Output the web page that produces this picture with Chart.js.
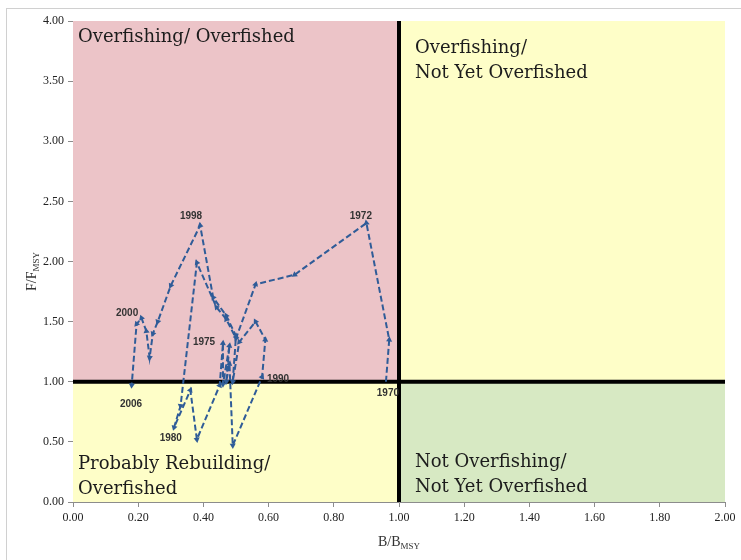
<!DOCTYPE html>
<html>
<head>
<meta charset="utf-8">
<script src="https://cdn.jsdelivr.net/npm/chart.js@4.4.0/dist/chart.umd.min.js"></script>
<style>
  html, body { margin: 0; padding: 0; background: #fff; }
  #wrap { width: 741px; height: 560px; position: relative; }
</style>
</head>
<body>
<div id="wrap"><canvas id="myChart" width="741" height="560"></canvas></div>
<script>
'use strict';

// stock trajectory, one point per year
let years = [];
for (let y = 1970; y <= 2006; y++) years.push(y);

let bRatio = [0.96, 0.97, 0.90, 0.68, 0.56, 0.50, 0.47, 0.44, 0.38, 0.33,
              0.31, 0.36, 0.38, 0.45, 0.46, 0.46, 0.48, 0.47, 0.48, 0.49,
              0.58, 0.59, 0.56, 0.51, 0.49, 0.50, 0.47, 0.43, 0.39, 0.30,
              0.26, 0.245, 0.235, 0.225, 0.21, 0.195, 0.18];
let fRatio = [1.00, 1.35, 2.32, 1.89, 1.81, 1.36, 1.52, 1.62, 1.99, 0.80,
              0.62, 0.93, 0.52, 0.97, 1.32, 0.98, 1.30, 1.00, 1.15, 0.47,
              1.04, 1.35, 1.50, 1.33, 1.00, 1.38, 1.55, 1.70, 2.30, 1.80,
              1.50, 1.40, 1.20, 1.42, 1.53, 1.48, 0.97];

// year labels: text and where it sits (data units)
let yearLabels = ['1970', '1972', '1975', '1980', '1990', '1998', '2000', '2006'];
let yearLabelX = [0.966, 0.883, 0.402, 0.300, 0.629, 0.362, 0.166, 0.178];
let yearLabelY = [0.906, 2.380, 1.330, 0.530, 1.020, 2.380, 1.570, 0.810];

let bThreshold = 1.0;
let fThreshold = 1.0;

let quadText = [
    ['Overfishing/ Overfished'],
    ['Overfishing/', 'Not Yet Overfished'],
    ['Probably Rebuilding/', 'Overfished'],
    ['Not Overfishing/', 'Not Yet Overfished']
];

let points = [];
for (let i = 0; i < years.length; i++) {
    points.push({x: bRatio[i], y: fRatio[i]});
}

function arrowAngle(c) {
    let i = c.dataIndex;
    if (i === 0) return 0;
    let xs = c.chart.scales.x, ys = c.chart.scales.y;
    let dx = xs.getPixelForValue(bRatio[i]) - xs.getPixelForValue(bRatio[i - 1]);
    let dy = ys.getPixelForValue(fRatio[i]) - ys.getPixelForValue(fRatio[i - 1]);
    return Math.atan2(dy, dx) * 180 / Math.PI + 90;
}

function subTitle(ctx, main, sub, x, y) {
    ctx.font = '14px "Liberation Serif"';
    let w1 = ctx.measureText(main).width;
    ctx.font = '9px "Liberation Serif"';
    let w2 = ctx.measureText(sub).width;
    let x0 = x - (w1 + w2) / 2;
    ctx.font = '14px "Liberation Serif"';
    ctx.fillText(main, x0, y);
    ctx.font = '9px "Liberation Serif"';
    ctx.fillText(sub, x0 + w1, y + 3);
}

let quadrants = {
    id: 'quadrants',
    beforeDraw(chart) {
        let ctx = chart.ctx;
        ctx.save();
        ctx.strokeStyle = '#d0d0d0';
        ctx.lineWidth = 1;
        ctx.strokeRect(6.5, 8.5, 760, 570);
        ctx.restore();
    },
    beforeDatasetsDraw(chart) {
        let ctx = chart.ctx, a = chart.chartArea;
        let xs = chart.scales.x, ys = chart.scales.y;
        let mx = xs.getPixelForValue(bThreshold);
        let my = ys.getPixelForValue(fThreshold);
        ctx.save();
        ctx.fillStyle = '#ecc4c8';
        ctx.fillRect(a.left, a.top, mx - a.left, my - a.top);
        ctx.fillStyle = '#fefec8';
        ctx.fillRect(mx, a.top, a.right - mx, my - a.top);
        ctx.fillRect(a.left, my, mx - a.left, a.bottom - my);
        ctx.fillStyle = '#d7e9c3';
        ctx.fillRect(mx, my, a.right - mx, a.bottom - my);

        // quadrant captions
        ctx.fillStyle = '#1c1c1c';
        ctx.font = '18px "DejaVu Serif"';
        ctx.textBaseline = 'middle';
        ctx.textAlign = 'left';
        let spots = [[a.left + 5, a.top + 16], [mx + 16, a.top + 27],
                     [a.left + 5, a.bottom - 38], [mx + 16, a.bottom - 40]];
        for (let q = 0; q < quadText.length; q++) {
            for (let k = 0; k < quadText[q].length; k++) {
                ctx.fillText(quadText[q][k], spots[q][0], spots[q][1] + k * 25);
            }
        }

        // threshold lines
        ctx.strokeStyle = '#000';
        ctx.lineWidth = 4;
        ctx.beginPath();
        ctx.moveTo(mx, a.top);
        ctx.lineTo(mx, a.bottom);
        ctx.moveTo(a.left, my);
        ctx.lineTo(a.right, my);
        ctx.stroke();
        ctx.restore();
    },
    afterDatasetsDraw(chart) {
        let ctx = chart.ctx;
        let xs = chart.scales.x, ys = chart.scales.y;
        ctx.save();
        ctx.fillStyle = '#333';
        ctx.font = 'bold 10px "Liberation Sans"';
        ctx.textAlign = 'center';
        ctx.textBaseline = 'middle';
        for (let i = 0; i < yearLabels.length; i++) {
            ctx.fillText(yearLabels[i], xs.getPixelForValue(yearLabelX[i]), ys.getPixelForValue(yearLabelY[i]));
        }
        ctx.restore();
    },
    afterDraw(chart) {
        let ctx = chart.ctx, a = chart.chartArea;
        ctx.save();
        ctx.fillStyle = '#333';
        ctx.textBaseline = 'alphabetic';
        ctx.textAlign = 'left';
        subTitle(ctx, 'B/B', 'MSY', (a.left + a.right) / 2, 546);

        ctx.translate(36, (a.top + a.bottom) / 2 + 10);
        ctx.rotate(-Math.PI / 2);
        subTitle(ctx, 'F/F', 'MSY', 0, 0);
        ctx.restore();
    }
};

let tickFont = {family: '"Liberation Serif"', size: 12};

let ctx = document.getElementById('myChart').getContext('2d');
let chart = new Chart(ctx, {
    type: 'scatter',
    data: {
        datasets: [{
            label: 'Trajectory',
            data: points,
            showLine: true,
            borderColor: '#2f5c98',
            backgroundColor: '#2f5c98',
            borderWidth: 2,
            borderDash: [6, 3],
            pointStyle: 'triangle',
            pointRadius: function (c) { return c.dataIndex === 0 ? 0 : 3.5; },
            pointRotation: arrowAngle,
            pointBorderWidth: 0
        }]
    },
    options: {
        responsive: false,
        animation: false,
        events: [],
        layout: {padding: {top: 21, right: 16, left: 0, bottom: 0}},
        plugins: {legend: {display: false}, tooltip: {enabled: false}},
        scales: {
            x: {
                type: 'linear', min: 0, max: 2,
                afterFit(scale) { scale.height = 58; },
                grid: {drawOnChartArea: false, tickLength: 5, color: '#8c8c8c'},
                border: {color: '#8c8c8c'},
                ticks: {stepSize: 0.2, padding: 4, color: '#222', font: tickFont,
                        callback: v => v.toFixed(2)}
            },
            y: {
                type: 'linear', min: 0, max: 4,
                afterFit(scale) { scale.width = 73; },
                grid: {drawOnChartArea: false, tickLength: 5, color: '#8c8c8c'},
                border: {color: '#8c8c8c'},
                ticks: {stepSize: 0.5, padding: 4, color: '#222', font: tickFont,
                        callback: v => v.toFixed(2)}
            }
        }
    },
    plugins: [quadrants]
});
</script>
</body>
</html>
